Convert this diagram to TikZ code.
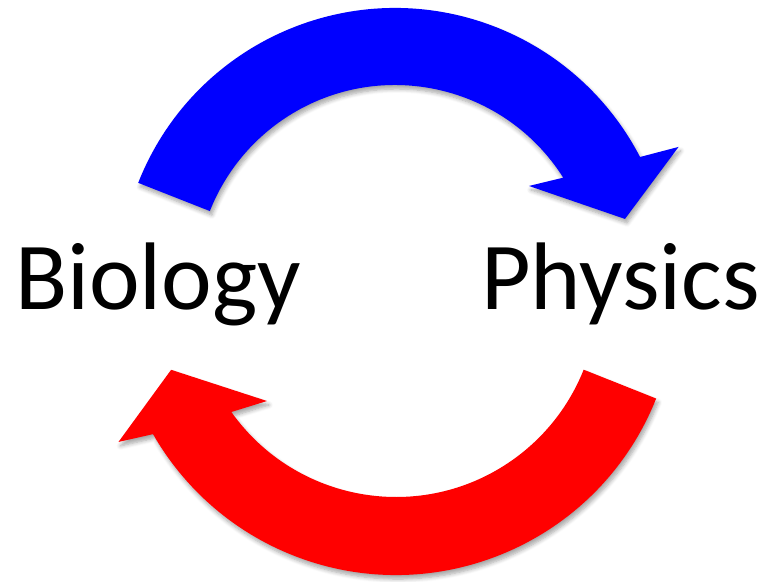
\documentclass[tikz,border=0pt]{standalone}
\usepackage{fontspec}
\setmainfont{Carlito}
\usetikzlibrary{shadows.blur}
\tikzset{
  arrowshape/.style={draw=none, blur shadow={shadow xshift=2pt, shadow yshift=-4pt, shadow blur steps=6, shadow blur radius=4pt, shadow opacity=35}},
  label/.style={inner sep=0pt, anchor=base west, font=\fontsize{96}{110}\selectfont}
}
\begin{document}
\begin{tikzpicture}[x=1pt,y=1pt]
\useasboundingbox (0,0) rectangle (763,581);
% blue arrow (top), centre (395,297)
\coordinate (bc) at (395,297);
\fill[blue, arrowshape] ($(bc)+(158.5:276)$) arc[start angle=158.5, end angle=27.4, radius=276]
  -- ($(bc)+(25.8:315)$) -- ($(bc)+(15.8:239)$) -- ($(bc)+(36.2:166)$) -- ($(bc)+(32.3:199)$)
  arc[start angle=32.3, end angle=158.5, radius=199] -- cycle;
% red arrow (bottom), centre (396,286)
\coordinate (rc) at (396,286);
\fill[red, arrowshape] ($(rc)+(338.3:280)$) arc[start angle=338.3, end angle=209.8, radius=280]
  -- ($(rc)+(207.9:314)$) -- ($(rc)+(198.4:237)$) -- ($(rc)+(219.4:167)$) -- ($(rc)+(215.4:202)$)
  arc[start angle=215.4, end angle=338.3, radius=202] -- cycle;
\node[label] (bio) at (15,271) {Biology};
\node[label] (phy) at (481,271) {Physics};
\end{tikzpicture}
\end{document}
